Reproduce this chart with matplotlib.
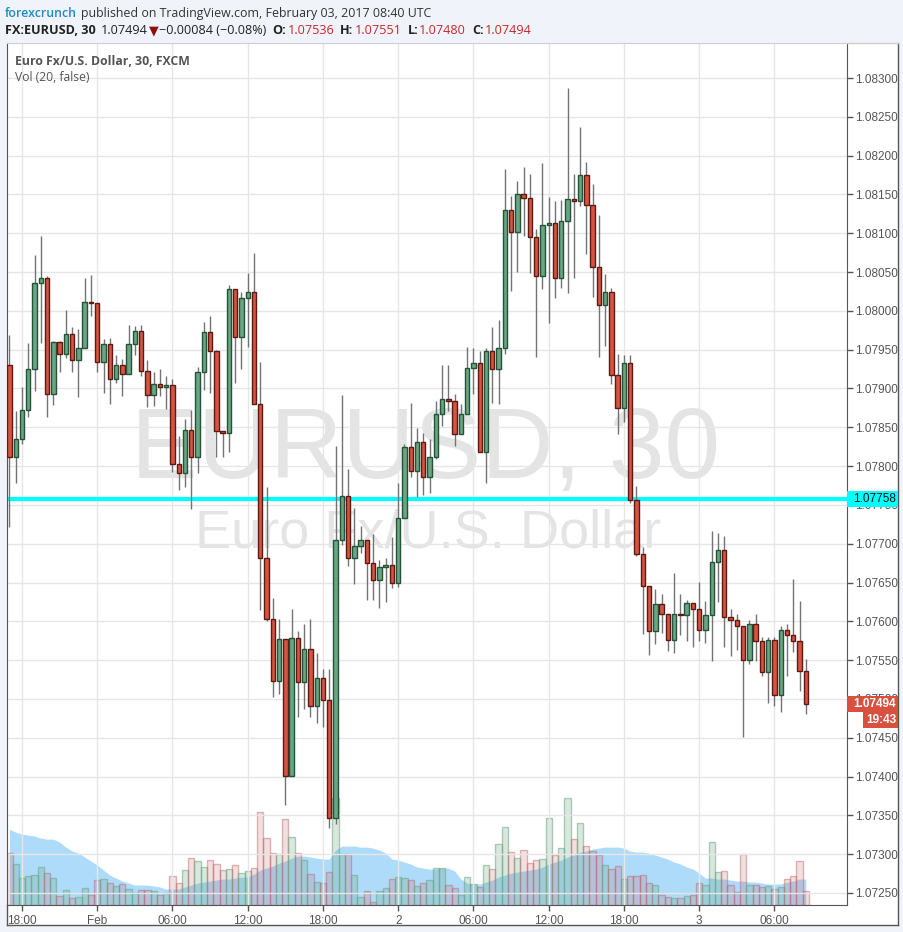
import numpy as np
import pandas as pd
import matplotlib
matplotlib.use('Agg')
import matplotlib.pyplot as plt
from matplotlib.lines import Line2D
from matplotlib.patches import Rectangle
from matplotlib.transforms import blended_transform_factory

W, H = 904, 932

# EURUSD 30 min candles, 2017-01-31 17:00 .. 2017-02-03 08:30
first_open = 1.07930
closes = [1.07812, 1.07835, 1.07872, 1.07925, 1.08036, 1.08042, 1.07893, 1.07960, 1.07944, 1.07970,
          1.07937, 1.07952, 1.08011, 1.08010, 1.07934, 1.07957, 1.07912, 1.07930, 1.07919, 1.07957,
          1.07974, 1.07922, 1.07892, 1.07906, 1.07902, 1.07904, 1.07803, 1.07791, 1.07847, 1.07812,
          1.07921, 1.07973, 1.07948, 1.07845, 1.07843, 1.08028, 1.07966, 1.08017, 1.08024, 1.07880,
          1.07682, 1.07603, 1.07523, 1.07577, 1.07401, 1.07579, 1.07522, 1.07564, 1.07491, 1.07527,
          1.07499, 1.07347, 1.07705, 1.07762, 1.07682, 1.07697, 1.07705, 1.07675, 1.07653, 1.07670,
          1.07673, 1.07649, 1.07733, 1.07825, 1.07794, 1.07831, 1.07786, 1.07812, 1.07867, 1.07886,
          1.07884, 1.07841, 1.07867, 1.07926, 1.07933, 1.07818, 1.07948, 1.07925, 1.07952, 1.08130,
          1.08102, 1.08151, 1.08145, 1.08095, 1.08045, 1.08111, 1.08113, 1.08042, 1.08116, 1.08144,
          1.08142, 1.08175, 1.08136, 1.08057, 1.08008, 1.08024, 1.07917, 1.07875, 1.07933, 1.07756,
          1.07687, 1.07646, 1.07588, 1.07622, 1.07609, 1.07576, 1.07609, 1.07608, 1.07624, 1.07616,
          1.07589, 1.07608, 1.07676, 1.07692, 1.07606, 1.07602, 1.07594, 1.07550, 1.07597, 1.07575,
          1.07535, 1.07576, 1.07505, 1.07589, 1.07582, 1.07575, 1.07536, 1.07494]
highs = [1.07969, 1.07871, 1.07902, 1.07959, 1.08072, 1.08096, 1.08045, 1.07961, 1.07961, 1.08001,
         1.07979, 1.07977, 1.08042, 1.08046, 1.08010, 1.07964, 1.07965, 1.07943, 1.07938, 1.07982,
         1.07981, 1.07982, 1.07937, 1.07921, 1.07925, 1.07916, 1.07912, 1.07839, 1.07861, 1.07872,
         1.07928, 1.07986, 1.07993, 1.07950, 1.07845, 1.08033, 1.08028, 1.08024, 1.08049, 1.08075,
         1.07934, 1.07773, 1.07630, 1.07603, 1.07577, 1.07616, 1.07588, 1.07597, 1.07603, 1.07559,
         1.07539, 1.07539, 1.07826, 1.07892, 1.07796, 1.07746, 1.07723, 1.07705, 1.07712, 1.07679,
         1.07682, 1.07709, 1.07778, 1.07828, 1.07881, 1.07849, 1.07843, 1.07835, 1.07884, 1.07930,
         1.07930, 1.07893, 1.07880, 1.07953, 1.07952, 1.07948, 1.07952, 1.07979, 1.07988, 1.08183,
         1.08148, 1.08167, 1.08185, 1.08176, 1.08106, 1.08191, 1.08147, 1.08142, 1.08143, 1.08287,
         1.08176, 1.08237, 1.08192, 1.08163, 1.08123, 1.08047, 1.08029, 1.07944, 1.07943, 1.07943,
         1.07774, 1.07696, 1.07646, 1.07642, 1.07635, 1.07609, 1.07662, 1.07635, 1.07628, 1.07624,
         1.07651, 1.07626, 1.07716, 1.07714, 1.07710, 1.07616, 1.07609, 1.07594, 1.07602, 1.07609,
         1.07580, 1.07580, 1.07580, 1.07594, 1.07597, 1.07654, 1.07626, 1.07551]
lows = [1.07722, 1.07778, 1.07828, 1.07863, 1.07897, 1.07959, 1.07863, 1.07879, 1.07921, 1.07939,
        1.07921, 1.07889, 1.07952, 1.07993, 1.07921, 1.07894, 1.07880, 1.07907, 1.07890, 1.07919,
        1.07943, 1.07916, 1.07876, 1.07878, 1.07890, 1.07874, 1.07792, 1.07769, 1.07773, 1.07745,
        1.07791, 1.07898, 1.07894, 1.07812, 1.07812, 1.07818, 1.07907, 1.07925, 1.07953, 1.07880,
        1.07615, 1.07600, 1.07502, 1.07506, 1.07363, 1.07401, 1.07477, 1.07487, 1.07477, 1.07469,
        1.07464, 1.07334, 1.07339, 1.07698, 1.07671, 1.07648, 1.07688, 1.07628, 1.07628, 1.07617,
        1.07625, 1.07643, 1.07644, 1.07733, 1.07786, 1.07760, 1.07763, 1.07765, 1.07809, 1.07852,
        1.07871, 1.07826, 1.07841, 1.07867, 1.07893, 1.07818, 1.07778, 1.07881, 1.07880, 1.07944,
        1.08026, 1.08050, 1.08096, 1.08049, 1.07941, 1.08028, 1.07984, 1.08017, 1.08029, 1.08023,
        1.08042, 1.08135, 1.08073, 1.08018, 1.07941, 1.07955, 1.07906, 1.07841, 1.07857, 1.07752,
        1.07684, 1.07584, 1.07557, 1.07571, 1.07585, 1.07562, 1.07559, 1.07582, 1.07575, 1.07567,
        1.07575, 1.07572, 1.07549, 1.07625, 1.07567, 1.07555, 1.07563, 1.07451, 1.07545, 1.07549,
        1.07530, 1.07495, 1.07491, 1.07483, 1.07530, 1.07560, 1.07510, 1.07480]
volumes = [52, 41, 27, 29, 30, 38, 32, 27, 9, 15,
           7, 8, 17, 10, 25, 26, 22, 19, 21, 16,
           12, 15, 15, 14, 10, 12, 29, 22, 35, 47,
           44, 38, 45, 41, 35, 36, 40, 32, 34, 37,
           93, 67, 52, 51, 86, 68, 52, 45, 31, 23,
           22, 33, 107, 51, 51, 30, 8, 14, 3, 14,
           17, 26, 28, 27, 25, 19, 22, 25, 37, 37,
           20, 17, 10, 28, 21, 18, 40, 36, 61, 78,
           53, 47, 55, 42, 45, 46, 87, 50, 57, 107,
           66, 82, 59, 54, 50, 40, 36, 39, 26, 29,
           29, 30, 22, 20, 10, 8, 7, 7, 9, 10,
           22, 20, 63, 33, 34, 20, 13, 51, 20, 20,
           18, 19, 16, 18, 26, 29, 44, 14]
vol_ma = [76, 73, 71, 70, 69, 67, 66, 66, 63, 58,
          54, 52, 48, 44, 40, 35, 30, 27, 24, 22,
          20, 20, 20, 19, 18, 16, 16, 16, 18, 20,
          22, 23, 24, 25, 26, 26, 27, 28, 28, 31,
          35, 37, 39, 42, 44, 47, 49, 49, 48, 47,
          46, 46, 55, 59, 59, 59, 58, 58, 57, 55,
          52, 46, 45, 43, 41, 38, 37, 36, 36, 37,
          37, 34, 26, 22, 21, 21, 23, 25, 28, 30,
          32, 33, 34, 35, 36, 38, 41, 43, 45, 48,
          50, 53, 54, 56, 57, 58, 58, 58, 57, 54,
          53, 53, 52, 50, 48, 46, 43, 41, 38, 36,
          32, 27, 27, 26, 26, 25, 24, 24, 23, 23,
          22, 21, 21, 21, 23, 24, 26, 26]
times = pd.date_range('2017-01-31 17:00', periods=len(closes), freq='30min')
price_ticks = np.arange(1.0725, 1.08301, 0.0005)
marker_price = 1.07758
last_price = 1.07494
countdown = '19:43'

closes = np.array(closes)
highs = np.array(highs)
lows = np.array(lows)
opens = np.r_[first_open, closes[:-1]]
idx = np.arange(len(closes))
up = closes >= opens

bg = '#f0f3fa'
txt = '#555555'
axis_font = 'Liberation Sans'
head_font = ['Open Sans', 'DejaVu Sans']


def fx(px):
    return px / W


def fy(py):
    return 1 - py / H


fig = plt.figure(figsize=(W / 100, H / 100), dpi=100, facecolor=bg)
fig.patches.append(Rectangle((fx(7), fy(925)), fx(898) - fx(7), fy(43) - fy(925),
                             transform=fig.transFigure, facecolor='white', edgecolor='none', zorder=0))

ax = fig.add_axes([fx(7), fy(905), fx(847) - fx(7), fy(43) - fy(905)])
axv = ax.twinx()
ax.set_zorder(2)
axv.set_zorder(1)
ax.patch.set_visible(False)

# volume + its moving average
axv.fill_between(idx, vol_ma, color='#7ac4f7', alpha=0.6, lw=0, zorder=1)
vcol = [(0.42, 0.65, 0.51, 0.25) if u else (0.75, 0.38, 0.38, 0.2) for u in up]
vedge = [(0.42, 0.65, 0.51, 0.55) if u else (0.75, 0.38, 0.38, 0.45) for u in up]
axv.bar(idx, volumes, width=1.0, color=vcol, edgecolor=vedge, linewidth=1, zorder=2)
axv.set_ylim(0, max(volumes) * 8.07)
axv.axis('off')

# watermark
axv.text(fx(426), fy(478), 'EURUSD, 30', transform=fig.transFigure, ha='center', va='baseline',
         fontsize=72, color='#e4e4e4', family=axis_font, zorder=0)
axv.text(fx(428), fy(547), 'Euro Fx/U.S. Dollar', transform=fig.transFigure, ha='center', va='baseline',
         fontsize=39, color='#e4e4e4', family=axis_font, zorder=0)

# candles
ax.axhline(marker_price, color='#00ffff', lw=3, zorder=2.5)
ax.vlines(idx, lows, highs, color='#737375', lw=1, zorder=3)
body_bot = np.minimum(opens, closes)
body_h = np.maximum(np.abs(closes - opens), 0.000015)
ax.bar(idx, body_h, bottom=body_bot, width=0.7,
       color=np.where(up, '#6ba583', '#d75442'),
       edgecolor=np.where(up, '#225437', '#5b1a13'), linewidth=1, zorder=4)

ax.set_xlim(-0.39, 133.57)
ax.set_ylim(1.072345, 1.083451)

# axes / ticks
ax.yaxis.tick_right()
ax.set_yticks(price_ticks)
ax.set_yticklabels(['%.5f' % p for p in price_ticks], family=axis_font)
tick_idx = [i for i, t in enumerate(times) if t.minute == 0 and t.hour % 6 == 0]
tick_lab = []
for i in tick_idx:
    t = times[i]
    if t.hour == 0:
        tick_lab.append(t.strftime('%b') if t.day == 1 else str(t.day))
    else:
        tick_lab.append(t.strftime('%H:%M'))
ax.set_xticks(tick_idx)
ax.set_xticklabels(tick_lab, family=axis_font)
ax.tick_params(axis='both', direction='out', length=4, width=1, color=txt,
               labelcolor=txt, labelsize=8.5)
ax.tick_params(axis='y', pad=2)
ax.tick_params(axis='x', pad=3)
ax.grid(True, color='#e6e6e6', lw=1)
ax.set_axisbelow(True)
for s in ['left', 'right', 'bottom']:
    ax.spines[s].set_color(txt)
ax.spines['top'].set_color('#cfcfcf')

# outer frame
for (x0, y0, x1, y1, c) in [(898, 43, 898, 925, txt), (7, 925, 898, 925, txt),
                            (7, 905, 7, 925, txt), (847, 43, 898, 43, '#cfcfcf')]:
    fig.add_artist(Line2D([fx(x0), fx(x1)], [fy(y0), fy(y1)], transform=fig.transFigure,
                          color=c, lw=1, zorder=5))

# right side price labels
bt = blended_transform_factory(fig.transFigure, ax.transData)
hh = 0.000103
fig.add_artist(Rectangle((fx(847), marker_price - hh), fx(898) - fx(847), 2 * hh,
                         transform=bt, facecolor='#00ffff', edgecolor='none', zorder=6))
fig.text(fx(853), marker_price, '%.5f' % marker_price, transform=bt, va='center', ha='left',
         fontsize=8.5, color='#111111', family=axis_font, zorder=7)
fig.add_artist(Rectangle((fx(847), last_price - hh), fx(898) - fx(847), 2 * hh,
                         transform=bt, facecolor='#d9503f', edgecolor='none', zorder=6))
fig.text(fx(853), last_price, '%.5f' % last_price, transform=bt, va='center', ha='left',
         fontsize=8.5, color='white', fontweight='bold', family=axis_font, zorder=7)
fig.add_artist(Rectangle((fx(863), last_price - 3.1 * hh), fx(898) - fx(863), 2 * hh,
                         transform=bt, facecolor='#d9503f', edgecolor='none', zorder=6))
fig.text(fx(866), last_price - 2.1 * hh, countdown, transform=bt, va='center', ha='left',
         fontsize=8.5, color='white', fontweight='bold', family=axis_font, zorder=7)

# header text runs
renderer = fig.canvas.get_renderer()


def draw_run(pieces, x, y, size):
    for s, color, weight, gap in pieces:
        t = fig.text(fx(x), fy(y), s, color=color, fontweight=weight, fontsize=size,
                     family=head_font, va='baseline', ha='left', zorder=8)
        x += t.get_window_extent(renderer=renderer).width + gap


red = '#c62828'
dark = '#222222'
draw_run([('forexcrunch', '#1f8bc4', 'semibold', 4),
          ('published on TradingView.com, February 03, 2017 08:40 UTC', '#333333', 'normal', 0)],
         5, 17, 8.9)
draw_run([('FX:EURUSD, 30', dark, 'bold', 5), ('1.07494', dark, 'normal', 1),
          ('\u25bc', '#8b1010', 'normal', 1), ('\u22120.00084 (\u22120.08%)', dark, 'normal', 6),
          ('O:', dark, 'bold', 1), ('1.07536', red, 'normal', 6),
          ('H:', dark, 'bold', 1), ('1.07551', red, 'normal', 6),
          ('L:', dark, 'bold', 1), ('1.07480', red, 'normal', 6),
          ('C:', dark, 'bold', 1), ('1.07494', red, 'normal', 0)],
         5, 34, 9.1)
draw_run([('Euro Fx/U.S. Dollar, 30, FXCM', txt, 'bold', 0)], 15, 65, 8.8)
draw_run([('Vol (20, false)', txt, 'normal', 0)], 15, 81, 8.7)

fig.savefig('out.png', dpi=100, facecolor=bg)
